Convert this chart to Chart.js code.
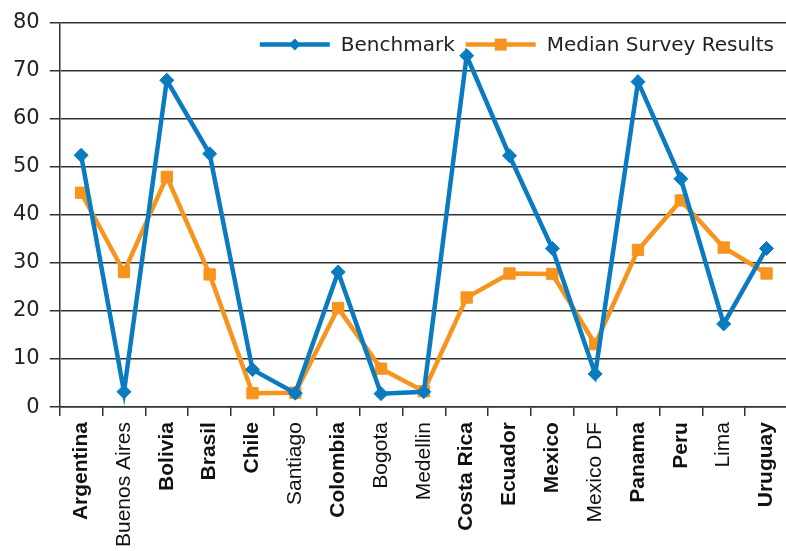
<!DOCTYPE html>
<html>
<head>
<meta charset="utf-8">
<script src="https://cdn.jsdelivr.net/npm/chart.js@4.4.1/dist/chart.umd.min.js"></script>
<style>
  html, body { margin: 0; padding: 0; background: #fff; overflow: hidden; }
  /* a touch wider/taller than the window so the plot runs to the right edge like the original */
  #wrap { position: relative; width: 798px; height: 553px; }
</style>
</head>
<body>
<div id="wrap"><canvas id="chart"></canvas></div>
<script>
const categories = ["Argentina", "Buenos Aires", "Bolivia", "Brasil", "Chile", "Santiago",
  "Colombia", "Bogota", "Medellin", "Costa Rica", "Ecuador", "Mexico", "Mexico DF",
  "Panama", "Peru", "Lima", "Uruguay"];
const cityLabels = ["Buenos Aires", "Santiago", "Bogota", "Medellin", "Mexico DF", "Lima"];
const benchmark = [52.4, 3.2, 68.0, 52.7, 7.8, 2.9, 28.1, 2.8, 3.2, 73.1, 52.3, 33.0, 6.9, 67.7, 47.5, 17.3, 33.0];
const medianSurvey = [44.6, 28.1, 47.9, 27.6, 2.9, 3.0, 20.6, 8.0, 3.3, 22.8, 27.8, 27.7, 13.1, 32.7, 43.0, 33.2, 27.8];
const yMin = 0, yMax = 80, yStep = 10;

const BLUE = "#0a7bc1";
const ORANGE = "#f7941d";

// legend sits inside the plot, top right: line + marker, then the label
const insideLegend = {
  id: "insideLegend",
  afterDatasetsDraw(chart) {
    const g = chart.ctx;
    const area = chart.chartArea;
    const iconW = 70, gapText = 11, gapItem = 11;
    const cy = area.top + 22;
    g.save();
    g.font = "20px 'DejaVu Sans'";
    g.textBaseline = "middle";
    const sets = chart.data.datasets;
    const widths = sets.map((ds) => iconW + gapText + g.measureText(ds.label).width);
    let x = area.right - 14 - widths.reduce((a, b) => a + b, 0) - gapItem * (sets.length - 1);
    sets.forEach((ds, i) => {
      g.strokeStyle = ds.borderColor;
      g.fillStyle = ds.borderColor;
      g.lineWidth = 4.5;
      g.beginPath(); g.moveTo(x, cy); g.lineTo(x + iconW, cy); g.stroke();
      const mx = x + iconW / 2;
      g.beginPath();
      if (ds.pointStyle === "rectRot") {
        g.moveTo(mx, cy - 6); g.lineTo(mx + 6, cy); g.lineTo(mx, cy + 6); g.lineTo(mx - 6, cy);
      } else {
        g.rect(mx - 6, cy - 6, 12, 12);
      }
      g.closePath(); g.fill();
      g.fillStyle = "#222";
      g.fillText(ds.label, x + iconW + gapText, cy + 1);
      x += widths[i] + gapItem;
    });
    g.restore();
  },
};

const ctx = document.getElementById("chart");
new Chart(ctx, {
  type: "line",
  data: {
    labels: categories,
    datasets: [
      {
        label: "Benchmark",
        data: benchmark,
        borderColor: BLUE,
        backgroundColor: BLUE,
        borderWidth: 4.5,
        pointStyle: "rectRot",
        pointRadius: 7,
        pointBorderWidth: 1,
        tension: 0,
      },
      {
        label: "Median Survey Results",
        data: medianSurvey,
        borderColor: ORANGE,
        backgroundColor: ORANGE,
        borderWidth: 4.5,
        pointStyle: "rect",
        pointRadius: 8,
        pointBorderWidth: 1,
        tension: 0,
      },
    ],
  },
  plugins: [insideLegend],
  options: {
    responsive: true,
    maintainAspectRatio: false,
    animation: false,
    layout: { padding: { left: 3, top: 10, right: 0, bottom: 0 } },
    plugins: {
      tooltip: { enabled: false },
      legend: { display: false },
    },
    scales: {
      x: {
        offset: true,
        grid: {
          offset: true,
          drawOnChartArea: false,
          drawTicks: true,
          tickLength: 9,
          color: "#333",
          lineWidth: 1.5,
        },
        border: { color: "#333", width: 1.5 },
        ticks: {
          autoSkip: false,
          maxRotation: 90,
          minRotation: 90,
          padding: 6,
          color: "#111",
          font: (c) => ({
            family: "Liberation Sans",
            size: 21,
            weight: cityLabels.includes(categories[c.index]) ? "normal" : "bold",
          }),
        },
      },
      y: {
        min: yMin,
        max: yMax,
        grid: { color: "#333", lineWidth: 1.5, tickLength: 10 },
        border: { color: "#333", width: 1.5 },
        ticks: {
          stepSize: yStep,
          padding: 10,
          color: "#222",
          font: { family: "DejaVu Sans", size: 21 },
        },
      },
    },
  },
});
</script>
</body>
</html>
